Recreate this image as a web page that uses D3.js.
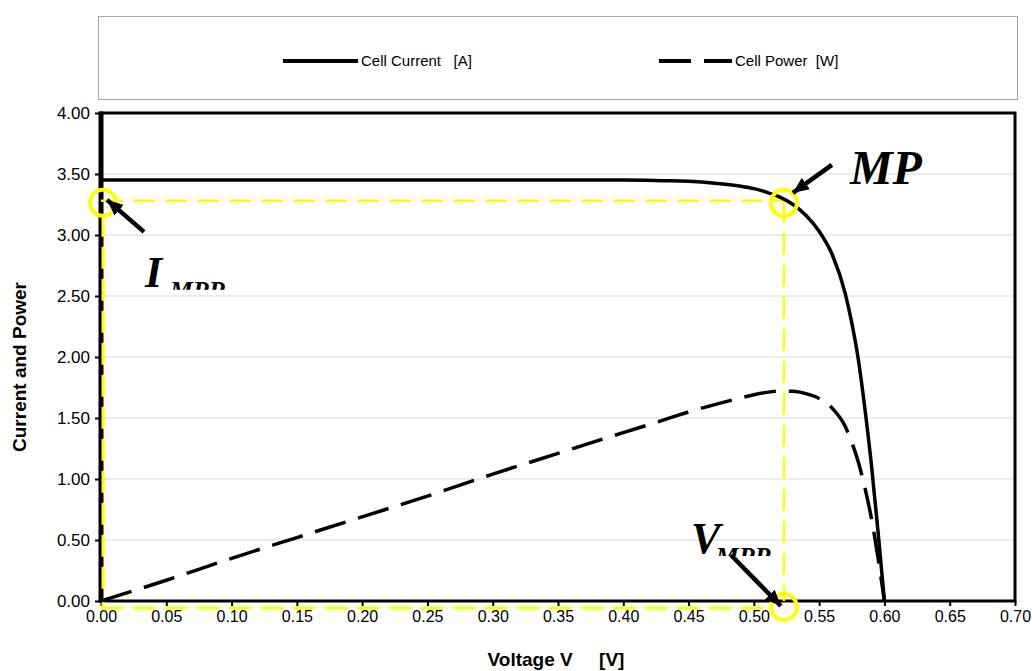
<!DOCTYPE html>
<html>
<head>
<meta charset="utf-8">
<script src="https://cdn.jsdelivr.net/npm/d3@7"></script>
<style>
  body { margin: 0; background: #fff; }
  svg { display: block; }
  text { font-family: "Liberation Sans", Arial, sans-serif; }
</style>
</head>
<body>
<div id="chart"></div>
<script>
// values
const voltage = [0, 0.05, 0.10, 0.15, 0.20, 0.25, 0.30, 0.35, 0.40, 0.43, 0.45, 0.47, 0.49, 0.50, 0.51, 0.52, 0.53, 0.54, 0.55, 0.56, 0.57, 0.575, 0.58, 0.585, 0.59, 0.595, 0.60];
const current = [3.45, 3.45, 3.45, 3.45, 3.45, 3.45, 3.45, 3.45, 3.45, 3.445, 3.44, 3.425, 3.40, 3.38, 3.35, 3.31, 3.25, 3.16, 3.03, 2.84, 2.52, 2.28, 1.98, 1.58, 1.12, 0.58, 0];
const power   = [0, 0.17, 0.35, 0.52, 0.69, 0.86, 1.04, 1.21, 1.38, 1.48, 1.55, 1.61, 1.665, 1.69, 1.71, 1.72, 1.72, 1.70, 1.66, 1.58, 1.43, 1.30, 1.14, 0.93, 0.68, 0.36, 0];
const xTicks = [0, 0.05, 0.10, 0.15, 0.20, 0.25, 0.30, 0.35, 0.40, 0.45, 0.50, 0.55, 0.60, 0.65, 0.70];
const yTicks = [0, 0.5, 1.0, 1.5, 2.0, 2.5, 3.0, 3.5, 4.0];
const seriesNames = ["Cell Current   [A]", "Cell Power  [W]"];
const mppVoltage = 0.523;
const mppCurrent = 3.28;

const width = 1032, height = 671;
const plotLeft = 101, plotRight = 1015, plotTop = 113, plotBottom = 601;
const yellow = "#ffff00";

const svg = d3.select("#chart").append("svg")
  .attr("width", width)
  .attr("height", height);

const x = d3.scaleLinear().domain([0, 0.7]).range([plotLeft, plotRight]);
const y = d3.scaleLinear().domain([0, 4]).range([plotBottom, plotTop]);

// legend box
svg.append("rect")
  .attr("x", 98.5).attr("y", 16.5)
  .attr("width", 919).attr("height", 83)
  .attr("fill", "#fff")
  .attr("stroke", "#a6a6a6");

const legend = svg.append("g");
legend.append("line")
  .attr("x1", 283).attr("x2", 358).attr("y1", 61).attr("y2", 61)
  .attr("stroke", "#000").attr("stroke-width", 4);
legend.append("text")
  .attr("x", 361).attr("y", 66)
  .style("font-size", "15px").style("white-space", "pre")
  .text(seriesNames[0]);
legend.append("line")
  .attr("x1", 659).attr("x2", 732).attr("y1", 61).attr("y2", 61)
  .attr("stroke", "#000").attr("stroke-width", 4)
  .attr("stroke-dasharray", "32,13");
legend.append("text")
  .attr("x", 735).attr("y", 66)
  .style("font-size", "15px").style("white-space", "pre")
  .text(seriesNames[1]);

// gridlines
svg.append("g")
  .selectAll("line")
  .data(yTicks)
  .enter()
  .append("line")
  .attr("x1", plotLeft).attr("x2", plotRight)
  .attr("y1", d => y(d)).attr("y2", d => y(d))
  .attr("stroke", "#d9d9d9")
  .attr("stroke-width", 1);

// axes
const yAxis = svg.append("g")
  .attr("transform", "translate(" + plotLeft + ",0)")
  .call(d3.axisLeft(y).tickValues(yTicks).tickFormat(d3.format(".2f")).tickSize(6).tickPadding(5));
const xAxis = svg.append("g")
  .attr("transform", "translate(0," + plotBottom + ")")
  .call(d3.axisBottom(x).tickValues(xTicks).tickFormat(d3.format(".2f")).tickSize(5).tickPadding(5));
[xAxis, yAxis].forEach(a => {
  a.select(".domain").remove();
  a.selectAll(".tick line").attr("stroke", "#000").attr("stroke-width", 2);
  a.selectAll(".tick text").attr("fill", "#000").style("font-family", '"Liberation Sans", Arial, sans-serif');
});
yAxis.selectAll(".tick text").style("font-size", "17px");
xAxis.selectAll(".tick text").style("font-size", "16px");

// plot frame
svg.append("rect")
  .attr("x", plotLeft).attr("y", plotTop)
  .attr("width", plotRight - plotLeft).attr("height", plotBottom - plotTop)
  .attr("fill", "none")
  .attr("stroke", "#000")
  .attr("stroke-width", 3);
svg.append("line")
  .attr("x1", plotLeft).attr("x2", plotLeft).attr("y1", plotTop - 1.5).attr("y2", plotBottom + 1.5)
  .attr("stroke", "#000").attr("stroke-width", 5);

// yellow MPP guide lines
const guides = svg.append("g").attr("stroke", yellow).attr("fill", "none").attr("stroke-dasharray", "22,10");
guides.append("line")
  .attr("x1", x(0)).attr("x2", x(mppVoltage))
  .attr("y1", y(mppCurrent)).attr("y2", y(mppCurrent))
  .attr("stroke-width", 2.5);
guides.append("line")
  .attr("x1", x(mppVoltage)).attr("x2", x(mppVoltage))
  .attr("y1", y(mppCurrent)).attr("y2", y(0))
  .attr("stroke-width", 2.5);
guides.append("line")
  .attr("x1", x(0) + 2).attr("x2", x(0) + 2)
  .attr("y1", y(mppCurrent) + 14).attr("y2", y(0) + 7)
  .attr("stroke-width", 3);
guides.append("line")
  .attr("x1", x(0)).attr("x2", x(mppVoltage) - 12)
  .attr("y1", y(0) + 7).attr("y2", y(0) + 7)
  .attr("stroke-width", 3);

// curves
const rows = voltage.map((v, i) => ({ v: v, i: current[i], p: power[i] }));
const currentLine = d3.line().x(d => x(d.v)).y(d => y(d.i)).curve(d3.curveMonotoneX);
const powerLine = d3.line().x(d => x(d.v)).y(d => y(d.p)).curve(d3.curveMonotoneX);

svg.append("path")
  .datum(rows)
  .attr("d", currentLine)
  .attr("fill", "none")
  .attr("stroke", "#000")
  .attr("stroke-width", 3.5);
svg.append("path")
  .datum(rows)
  .attr("d", powerLine)
  .attr("fill", "none")
  .attr("stroke", "#000")
  .attr("stroke-width", 3.5)
  .attr("stroke-dasharray", "32,13");

// yellow circles
const circles = [
  [x(0) + 2, y(mppCurrent) + 2],
  [x(mppVoltage), y(mppCurrent) + 2],
  [x(mppVoltage), y(0) + 6]
];
svg.append("g")
  .selectAll("circle")
  .data(circles)
  .enter()
  .append("circle")
  .attr("cx", d => d[0]).attr("cy", d => d[1])
  .attr("r", 13)
  .attr("fill", "none")
  .attr("stroke", yellow)
  .attr("stroke-width", 4);

// arrows
const defs = svg.append("defs");
defs.append("marker")
  .attr("id", "head")
  .attr("markerUnits", "userSpaceOnUse")
  .attr("markerWidth", 18).attr("markerHeight", 14)
  .attr("refX", 16).attr("refY", 7)
  .attr("orient", "auto")
  .append("path")
  .attr("d", "M0,0 L16,7 L0,14 Z")
  .attr("fill", "#000");

const arrows = [
  [x(0) + 43, y(mppCurrent) + 31, x(0) + 6, y(mppCurrent) - 1],
  [x(mppVoltage) + 48, y(mppCurrent) - 36, x(mppVoltage) + 9, y(mppCurrent) - 8],
  [x(mppVoltage) - 53, y(0) - 46, x(mppVoltage) - 3, y(0) + 5]
];
svg.append("g")
  .selectAll("line")
  .data(arrows)
  .enter()
  .append("line")
  .attr("x1", d => d[0]).attr("y1", d => d[1])
  .attr("x2", d => d[2]).attr("y2", d => d[3])
  .attr("stroke", "#000")
  .attr("stroke-width", 4.5)
  .attr("marker-end", "url(#head)");

// annotation labels
const serif = '"Liberation Serif", "Times New Roman", serif';
defs.append("clipPath").attr("id", "clipI")
  .append("rect").attr("x", 0).attr("y", 0).attr("width", width).attr("height", y(mppCurrent) + 89);
defs.append("clipPath").attr("id", "clipV")
  .append("rect").attr("x", 0).attr("y", 0).attr("width", width).attr("height", y(0) - 45);

function label(g, x0, y0, main, sub, size, subSize) {
  g.append("text")
    .attr("x", x0).attr("y", y0)
    .style("font-family", serif).style("font-weight", "bold").style("font-style", "italic")
    .style("font-size", size + "px")
    .text(main);
  if (sub) {
    g.append("text")
      .attr("x", x0 + size * 0.56).attr("y", y0 + subSize * 0.45)
      .style("font-family", serif).style("font-weight", "bold").style("font-style", "italic")
      .style("font-size", subSize + "px")
      .text(sub);
  }
}
label(svg.append("g").attr("clip-path", "url(#clipI)"), x(0) + 44, y(mppCurrent) + 86, "I", "MPP", 44, 26);
label(svg.append("g"), x(mppVoltage) + 66, y(mppCurrent) - 17, "MP", null, 48, 0);
label(svg.append("g").attr("clip-path", "url(#clipV)"), x(mppVoltage) - 93, y(0) - 48, "V", "MPP", 44, 26);

// axis titles
svg.append("text")
  .attr("transform", "translate(26," + ((plotTop + plotBottom) / 2 + 10) + ") rotate(-90)")
  .attr("text-anchor", "middle")
  .style("font-size", "19px").style("font-weight", "bold")
  .text("Current and Power");
svg.append("text")
  .attr("x", 556).attr("y", 666)
  .attr("text-anchor", "middle")
  .style("font-size", "19px").style("font-weight", "bold").style("white-space", "pre")
  .text("Voltage V     [V]");
</script>
</body>
</html>
